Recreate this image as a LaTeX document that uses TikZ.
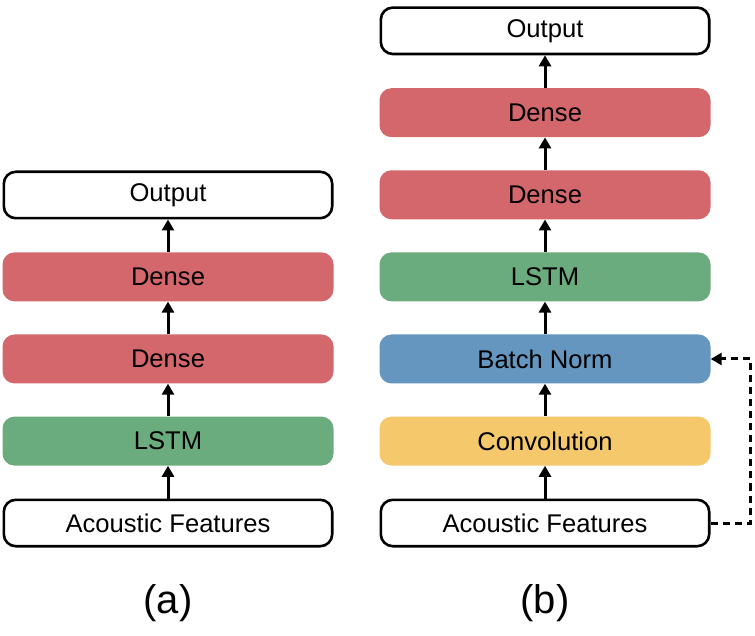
\documentclass[tikz,border=0pt]{standalone}
\usepackage{fontspec}
\setmainfont{Liberation Sans}
\usetikzlibrary{positioning,arrows.meta}

\definecolor{densered}{RGB}{212,103,108}
\definecolor{lstmgreen}{RGB}{107,172,126}
\definecolor{normblue}{RGB}{100,150,191}
\definecolor{convyellow}{RGB}{245,201,107}

\begin{document}
\begin{tikzpicture}[x=1pt,y=1pt,node distance=32.7pt]
\tikzstyle{every node}+=[font=\fontsize{25.6}{30}\selectfont]
\tikzstyle{layer}=[rounded corners=12pt, minimum width=331pt, minimum height=49pt, inner sep=0pt]
\tikzstyle{io}=[layer, draw=black, line width=2.6pt, minimum width=328.4pt, minimum height=46.4pt]
\tikzstyle{link}=[-{Triangle[length=11pt,width=12pt]}, line width=3pt]
\tikzstyle{skip}=[-{Triangle[length=11pt,width=12pt]}, line width=3pt, dash pattern=on 7pt off 5pt]
\tikzstyle{caption}=[font=\fontsize{40}{46}\selectfont]

\useasboundingbox (0,0) rectangle (755,635);

% (a)
\node[io] (ina) at (168,112) {Acoustic Features};
\node[layer, fill=lstmgreen, above=of ina] (lstma) {LSTM};
\node[layer, fill=densered, above=of lstma] (densea) {Dense};
\node[layer, fill=densered, above=of densea] (denseb) {Dense};
\node[io, above=of denseb] (outa) {Output};
\draw[link] (ina) -- (lstma);
\draw[link] (lstma) -- (densea);
\draw[link] (densea) -- (denseb);
\draw[link] (denseb) -- (outa);
\node[caption] (capa) at (168,32) {(a)};

% (b)
\node[io] (inb) at (545,112) {Acoustic Features};
\node[layer, fill=convyellow, above=of inb] (convb) {Convolution};
\node[layer, fill=normblue, above=of convb] (normb) {Batch Norm};
\node[layer, fill=lstmgreen, above=of normb] (lstmb) {LSTM};
\node[layer, fill=densered, above=of lstmb] (densec) {Dense};
\node[layer, fill=densered, above=of densec] (densed) {Dense};
\node[io, above=of densed] (outb) {Output};
\draw[link] (inb) -- (convb);
\draw[link] (convb) -- (normb);
\draw[link] (normb) -- (lstmb);
\draw[link] (lstmb) -- (densec);
\draw[link] (densec) -- (densed);
\draw[link] (densed) -- (outb);
\coordinate (turn) at (750,112);
\draw[skip] (inb.east) -- (turn) |- (normb.east);
\node[caption] (capb) at (545,32) {(b)};

\end{tikzpicture}
\end{document}
